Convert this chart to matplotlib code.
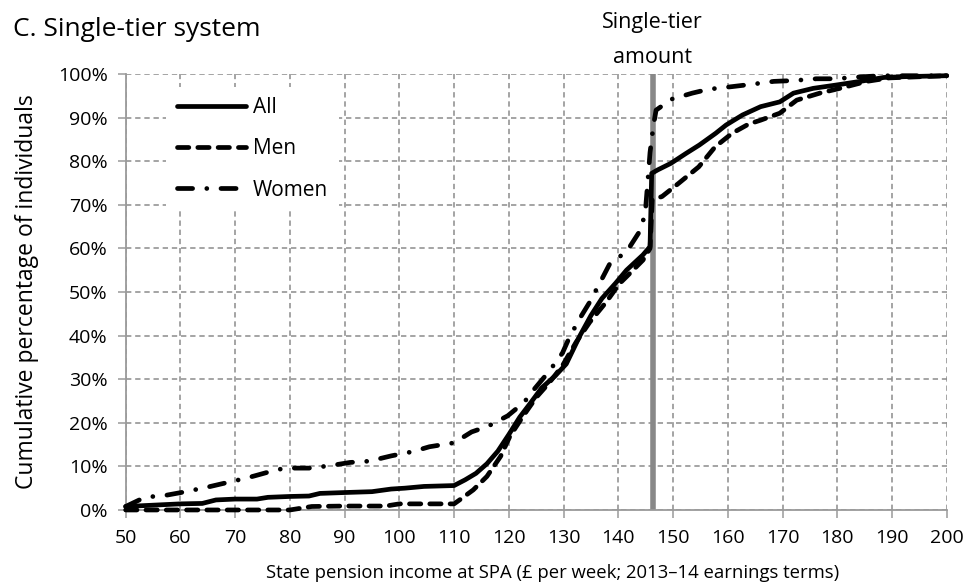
import numpy as np
import matplotlib.pyplot as plt
from matplotlib.ticker import FuncFormatter

plt.rcParams['font.family'] = ['Open Sans', 'DejaVu Sans']

# Single-tier amount (GBP per week)
ST_AMOUNT = 146.3

all_x = [50, 60, 64, 66.5, 70, 74, 76, 80, 83.5, 85.5, 90, 95, 98.5, 101, 104.5,
         110, 112, 114, 116, 118, 120, 122, 124, 126, 128.5, 130.5, 133, 135, 137,
         139.5, 141.5, 144.5, 145.8, 146.1, 147.2, 149.6, 152.4, 154.8, 157.8,
         159.7, 162.7, 166, 169.5, 172, 175.6, 180, 184.2, 188.5, 192.7, 200]
all_y = [0.8, 1.4, 1.5, 2.3, 2.5, 2.5, 2.9, 3.1, 3.2, 3.8, 4.0, 4.2, 4.8, 5.0, 5.4,
         5.6, 6.9, 8.4, 10.6, 13.5, 17.3, 21.3, 24.6, 28.0, 30.8, 33.5, 40.0, 44.6, 48.5,
         52.0, 55.0, 58.5, 60.4, 77.2, 78.0, 79.5, 81.8, 83.7, 86.4,
         88.3, 90.6, 92.5, 93.6, 95.6, 96.7, 97.5, 98.3, 99.2, 99.4, 99.6]

men_x = [50, 80, 84, 90, 97.5, 100, 110, 111, 113.5, 116, 118.5, 120.2, 122.6, 125,
         127.4, 129.8, 132.3, 134.8, 137.8, 140.2, 141.5, 144.5, 145.8, 146.2, 148,
         151, 154.7, 157.7, 160.8, 163.8, 166, 169.5, 172.6, 176.8, 180.5, 185.4,
         189.5, 200]
men_y = [0, 0, 0.8, 0.9, 0.9, 1.4, 1.4, 2.3, 4.6, 7.7, 12.3, 16.9, 21.5, 25.8,
         29.2, 33.1, 38.5, 43.1, 47.7, 51.9, 53.5, 57.3, 60.0, 71.1, 71.9,
         74.9, 78.7, 83.3, 86.4, 88.5, 89.4, 91.0, 94.0, 95.6, 96.7, 98.3,
         99.1, 99.6]

women_x = [50, 53.5, 57.5, 61, 65.5, 72, 73.5, 75.8, 79, 83.5, 87, 91, 94.5, 98.5,
           102.5, 105.5, 110, 113.2, 116.2, 119.8, 122.8, 124.7, 127.3, 129.8, 131,
           132.9, 134.7, 136.6, 138.5, 141.5, 143.7, 144.9, 145.3, 145.8, 146.4,
           146.9, 149.7, 153.5, 156.5, 160.8, 164.8, 168.4, 172.2, 176.2, 179.8,
           183.8, 188, 200]
women_y = [0.8, 2.9, 3.4, 4.2, 5.4, 7.3, 7.8, 8.6, 9.6, 9.6, 10.1, 10.9, 11.2, 12.4,
           13.4, 14.5, 15.4, 17.9, 19.2, 21.6, 24.7, 27.8, 31.7, 36.0, 39.4,
           43.8, 47.5, 52.0, 56.6, 59.2, 63.5, 67.7, 74.0, 82.0, 88.0,
           91.7, 94.2, 95.6, 96.5, 97.1, 97.7, 98.3, 98.5, 98.9, 98.9,
           99.3, 99.6, 99.6]

fig = plt.figure(figsize=(9.74, 5.88), dpi=100)
ax = fig.add_axes([0.129, 0.1327, 0.843, 0.7415])

grid_col = '#8c8c8c'
ax.set_xlim(50, 200)
ax.set_ylim(0, 100)
ax.set_xticks(np.arange(50, 201, 10))
ax.set_yticks(np.arange(0, 101, 10))
ax.yaxis.set_major_formatter(FuncFormatter(lambda v, p: f"{v:.0f}%"))
ax.grid(True, color=grid_col, linestyle=(0, (3.5, 2.5)), linewidth=1.1, zorder=0)
ax.set_axisbelow(True)

for s in ['top', 'right']:
    ax.spines[s].set_visible(False)
for s in ['left', 'bottom']:
    ax.spines[s].set_color('#9a9a9a')
    ax.spines[s].set_linewidth(1.3)
ax.tick_params(axis='both', colors='#9a9a9a', labelcolor='black', length=6,
               width=1.1, labelsize=14)
ax.tick_params(axis='x', pad=8)
ax.tick_params(axis='y', pad=7)

# single-tier amount marker
ax.axvline(ST_AMOUNT, color='#888888', linewidth=4, zorder=2)
ax.annotate("Single-tier\namount", xy=(ST_AMOUNT, 1.0),
            xycoords=('data', 'axes fraction'), xytext=(0, 4),
            textcoords='offset points', ha='center', va='bottom',
            fontsize=15.5, linespacing=1.9)

lw = 3.4
ax.plot(all_x, all_y, color='black', linewidth=lw, solid_capstyle='round',
        solid_joinstyle='round', label='All', zorder=4, clip_on=False)
ax.plot(men_x, men_y, color='black', linewidth=lw, dashes=(2.4, 1.9),
        dash_capstyle='round', label='Men', zorder=4, clip_on=False)
ax.plot(women_x, women_y, color='black', linewidth=lw,
        dashes=(3.2, 3.0, 0.01, 3.0), dash_capstyle='round',
        label='Women', zorder=4, clip_on=False)

leg = ax.legend(loc='upper left', bbox_to_anchor=(0.042, 0.985), frameon=True,
                fancybox=False, edgecolor='white', facecolor='white',
                framealpha=1, fontsize=15, handlelength=3.3, handletextpad=0.35,
                labelspacing=0.97, borderpad=0.5, borderaxespad=0.3)
leg.get_frame().set_linewidth(0)
leg.set_zorder(3)

ax.set_ylabel("Cumulative percentage of individuals", fontsize=16.5)
ax.yaxis.set_label_coords(-0.106, 0.5)
ax.set_xlabel("State pension income at SPA (\u00a3 per week; 2013\u201314 earnings terms)",
              fontsize=13.3)
ax.xaxis.set_label_coords(0.52, -0.125)

fig.text(0.013, 0.95, "C. Single-tier system", fontsize=19, ha='left', va='center')

fig.savefig("out.png", dpi=100)
